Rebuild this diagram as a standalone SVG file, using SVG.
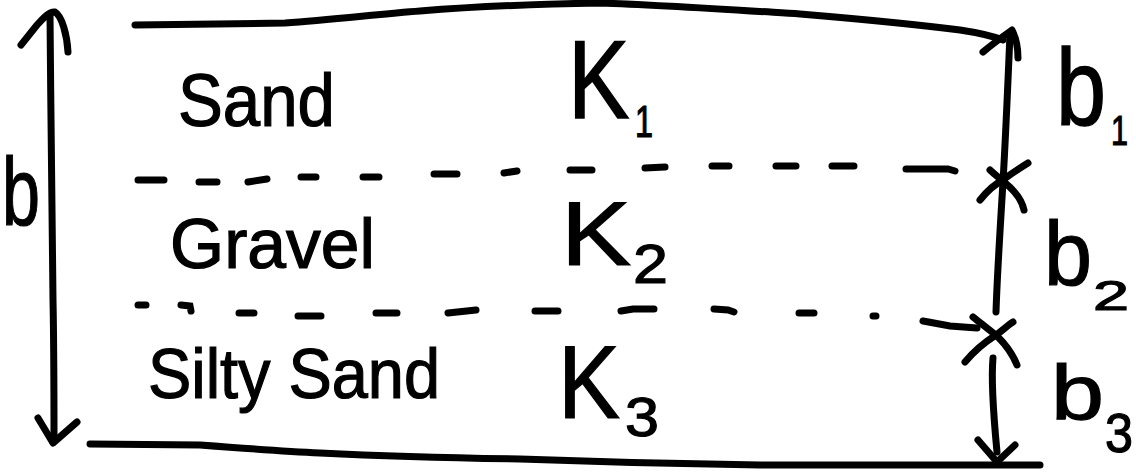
<svg xmlns="http://www.w3.org/2000/svg" width="1136" height="475" viewBox="0 0 1136 475">
<style>
.ln{fill:none;stroke:#000;stroke-width:7;stroke-linecap:round;stroke-linejoin:round}
.ds{fill:none;stroke:#000;stroke-width:7;stroke-linecap:round}
.t{font-family:"Liberation Sans",Arial,sans-serif;fill:#000;stroke:#000;stroke-width:1.2}
</style>
<rect width="1136" height="475" fill="#fff"/>
<g id="boundaries">
<path class="ln" d="M135,25 L285,23 C330,20 380,14 420,11 C470,7 540,4 600,3 C660,5 720,9 800,14 C860,19 920,25 960,30 C980,33 995,37 1003,40"/>
<path class="ln" d="M90,444 L200,445 C240,448 280,451 320,453 C380,456 450,458 520,459 C600,462 680,464 760,465 L1040,465"/>
</g>
<g id="dashed-1">
<path class="ds" d="M138,180 L164,180 M199,182 L217,182 M248,182 L267,179 M301,177 L316,177 M363,177 L379,177 M434,174 L457,174 M504,173 L517,171 M570,170 L592,170 M645,168 L665,167 M712,166 L729,166 M776,166 L796,166 M832,166 L854,166 M906,169 L948,169 L955,171"/>
</g>
<g id="dashed-2">
<path class="ds" d="M138,305 L146,305 M181,305 L190,306 L191,311 M239,313 L254,313 M298,316 L321,316 M376,313 L397,313 M448,313 L476,310 M535,311 L558,311 M621,311 L633,309 L654,309 M714,309 L728,310 L734,312 M799,313 L814,313 M873,316 L876,316 M923,321 L950,326 L977,328"/>
</g>
<g id="thickness-b">
<path class="ln" d="M50,14 C51,120 52,250 53,300 C54,350 54,400 54,440"/>
<path class="ln" d="M21,45 L37,25 C44,17 50,11 55,12 C62,16 67,35 68,52"/>
<path class="ln" d="M38,418 L53,443 L77,422"/>
<text class="t" x="2" y="225" font-size="96" textLength="38" lengthAdjust="spacingAndGlyphs">b</text>
</g>
<g id="right-dims">
<path class="ln" d="M1010,34 C1008,80 1006,130 1003,182 C1000,230 997,280 996,312"/>
<path class="ln" d="M983,52 C995,42 1005,35 1012,30 C1016,38 1018,48 1018,58"/>
<path class="ln" d="M980,200 C988,190 995,184 1003,180 C1012,173 1020,168 1028,163"/>
<path class="ln" d="M990,170 C995,175 1000,178 1004,182 C1014,190 1022,200 1024,210"/>
<path class="ln" d="M965,362 C975,350 985,342 996,335 C1003,330 1008,325 1013,322"/>
<path class="ln" d="M973,317 C983,325 992,332 998,337 C1006,345 1013,355 1017,365"/>
<path class="ln" d="M993,358 C991,380 993,410 997,452"/>
<path class="ln" d="M978,440 L997,462 L1015,445"/>
</g>
<g id="layer-sand">
<text class="t" x="178" y="126" font-size="74" textLength="157" lengthAdjust="spacingAndGlyphs">Sand</text>
<text class="t" transform="translate(568,118) scale(1,1.2)" font-size="92">K</text>
<text class="t" x="635" y="137" font-size="44" textLength="18" lengthAdjust="spacingAndGlyphs">1</text>
</g>
<g id="layer-gravel">
<text class="t" x="561" y="265" font-size="90" textLength="70" lengthAdjust="spacingAndGlyphs">K</text>
<text class="t" x="170" y="268" font-size="70" textLength="205" lengthAdjust="spacingAndGlyphs">Gravel</text>
<text class="t" x="633" y="283" font-size="56" textLength="35" lengthAdjust="spacingAndGlyphs">2</text>
</g>
<g id="layer-silty-sand">
<text class="t" x="148" y="398" font-size="70" textLength="292" lengthAdjust="spacingAndGlyphs">Silty Sand</text>
<text class="t" x="558" y="418" font-size="104" textLength="62" lengthAdjust="spacingAndGlyphs">K</text>
<text class="t" x="625" y="436" font-size="56" textLength="34" lengthAdjust="spacingAndGlyphs">3</text>
</g>
<g id="labels-b">
<text class="t" transform="translate(1056,125) scale(1,1.22)" font-size="90">b</text>
<text class="t" x="1111" y="145" font-size="42" textLength="17" lengthAdjust="spacingAndGlyphs">1</text>
<text class="t" x="1044" y="285" font-size="90" textLength="48" lengthAdjust="spacingAndGlyphs">b</text>
<text class="t" x="1093" y="310" font-size="42" textLength="36" lengthAdjust="spacingAndGlyphs">2</text>
<text class="t" x="1051" y="420" font-size="77" textLength="53" lengthAdjust="spacingAndGlyphs">b</text>
<text class="t" x="1105" y="452" font-size="55" textLength="28" lengthAdjust="spacingAndGlyphs">3</text>
</g>
</svg>
